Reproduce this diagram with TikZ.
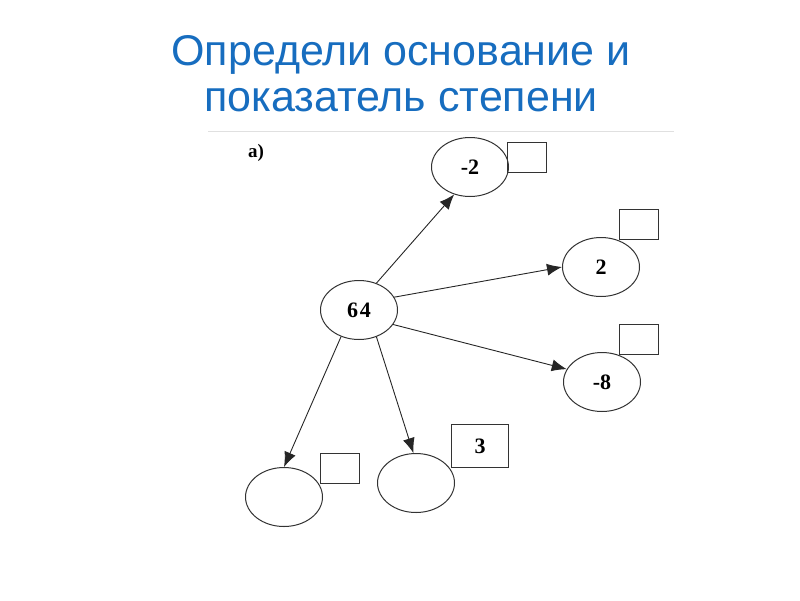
\documentclass[tikz,border=0pt]{standalone}
\usepackage{fontspec}
\setmainfont{Liberation Serif}
\newfontfamily\titlefont{Liberation Sans}
\usetikzlibrary{shapes.geometric,arrows.meta}
\definecolor{titleblue}{RGB}{23,109,191}
\tikzset{
  titletext/.style={text=titleblue, font=\titlefont\fontsize{43}{50}\selectfont, anchor=base},
  numcircle/.style={ellipse, draw=black!80, line width=1pt, minimum width=77pt, minimum height=59pt, inner sep=0pt, font=\bfseries\fontsize{22}{22}\selectfont},
  answerbox/.style={rectangle, draw=black!80, line width=1pt, minimum width=39pt, minimum height=30pt, inner sep=0pt, font=\bfseries\fontsize{22}{22}\selectfont},
  pointer/.style={-{Latex[length=15pt,width=12pt]}, black!85, line width=0.9pt}
}
\begin{document}
\begin{tikzpicture}[x=1pt,y=-1pt]
        \useasboundingbox (0,0) rectangle (800,600);

        % Title
        \node[titletext] (title1) at (401,65) {Определи основание и};
        \node[titletext] (title2) at (401,111) {показатель степени};
        \draw[black!12, line width=1pt] (208,131) -- (674,131);

        % Label
        \node[font=\bfseries\fontsize{19}{19}\selectfont] (label) at (256,153) {а)};

        % Circles
        \node[numcircle] (c64) at (359,310) {6\kern2pt4};
        \node[numcircle] (cm2) at (470,167) {-2};
        \node[numcircle] (c2) at (601,267) {2};
        \node[numcircle] (cm8) at (602,382) {-8};
        \node[numcircle] (cbl) at (284,497) {};
        \node[numcircle] (cbm) at (416,483) {};

        % Boxes
        \node[answerbox] (bm2) at (527,157) {};
        \node[answerbox] (b2) at (639,224) {};
        \node[answerbox] (bm8) at (639,339) {};
        \node[answerbox] (bbl) at (340,468) {};
        \node[answerbox, minimum width=57pt, minimum height=43pt] (bbm) at (480,446) {3};

        % Arrows from 64
        \draw[pointer] (c64.57) -- (cm2.240);
        \draw[pointer] (c64.20) -- (c2.180);
        \draw[pointer] (c64.-23) -- (cm8.160);
        \draw[pointer] (c64.236) -- (cbl.90);
        \draw[pointer] (c64.303) -- (cbm.95);

    \end{tikzpicture}
\end{document}
